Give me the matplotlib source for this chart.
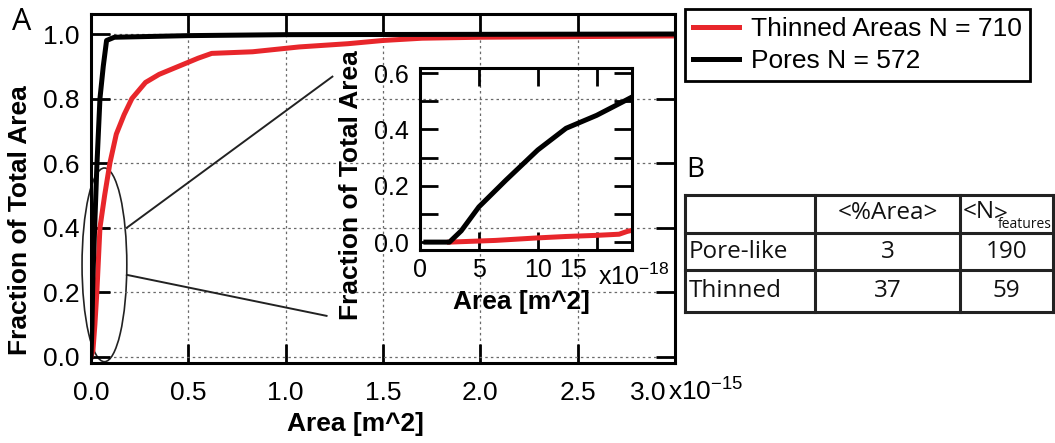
import numpy as np
import matplotlib.pyplot as plt
from matplotlib.patches import Ellipse
from matplotlib.transforms import ScaledTranslation

plt.rcParams['font.family'] = ['Liberation Sans', 'DejaVu Sans']
plt.rcParams['mathtext.fontset'] = 'custom'
plt.rcParams['mathtext.rm'] = 'Liberation Sans'
plt.rcParams['mathtext.bf'] = 'Liberation Sans:bold'

# cumulative area fraction, main panel (area in units of 1e-15 m^2)
thin_x = [0, 0.01, 0.02, 0.03, 0.046, 0.07, 0.097, 0.13, 0.17, 0.21, 0.28, 0.35,
          0.45, 0.55, 0.62, 0.83, 1.07, 1.32, 1.5, 1.7, 2.0, 2.5, 3.0]
thin_y = [0, 0.02, 0.1, 0.2, 0.4, 0.5, 0.6, 0.69, 0.75, 0.8, 0.85, 0.875,
          0.9, 0.925, 0.94, 0.945, 0.96, 0.97, 0.98, 0.987, 0.99, 0.992, 0.994]
pore_x = [0, 0.005, 0.01, 0.02, 0.03, 0.046, 0.063, 0.08, 0.12, 0.5, 1.0, 3.0]
pore_y = [0, 0.1, 0.25, 0.42, 0.59, 0.80, 0.90, 0.98, 0.99, 0.995, 0.998, 1.0]

# inset (area in units of 1e-18 m^2)
in_pore_x = [0.5, 2.5, 3.5, 5.0, 7.3, 10.0, 12.4, 15.0, 17.5, 18.0]
in_pore_y = [0.0, 0.0, 0.04, 0.125, 0.22, 0.327, 0.404, 0.45, 0.504, 0.515]
in_thin_x = [2.5, 6.4, 10.0, 12.4, 15.0, 16.9, 17.6, 18.0]
in_thin_y = [0.0, 0.006, 0.015, 0.02, 0.024, 0.028, 0.038, 0.042]

main_xticks = [0, 0.5, 1.0, 1.5, 2.0, 2.5, 3.0]
main_xlabels = ['0.0', '0.5', '1.0', '1.5', '2.0', '2.5', '3.0']
main_yticks = [0, 0.2, 0.4, 0.6, 0.8, 1.0]
main_ylabels = ['0.0', '0.2', '0.4', '0.6', '0.8', '1.0']
in_xticks = [0, 5, 10, 15]
in_xlabels = ['0', '5', '10', '15']
in_yticks = [0, 0.2, 0.4, 0.6]
in_ylabels = ['0.0', '0.2', '0.4', '0.6']

legend_labels = ['Thinned Areas N = 710', 'Pores N = 572']

row_names = ['Pore-like', 'Thinned']
pct_area = ['3', '37']
n_features = ['190', '59']

red = '#e8262b'
W, H = 1055, 443
fig = plt.figure(figsize=(W / 100, H / 100), dpi=100)


def box(l, t, r, b):
    return [l / W, 1 - b / H, (r - l) / W, (b - t) / H]


def style(a, length, size):
    for s in a.spines.values():
        s.set_linewidth(2.2)
    a.tick_params(which='both', direction='in', length=length, width=2,
                  top=True, right=True, labelsize=size)


def shift_last(a, dx):
    lab = a.xaxis.get_ticklabels()[-1]
    lab.set_transform(lab.get_transform() +
                      ScaledTranslation(dx / 100, 0, fig.dpi_scale_trans))


# ---- main panel
ax = fig.add_axes(box(91, 14, 675, 363))
l1, = ax.plot(thin_x, thin_y, color=red, lw=3.6)
l2, = ax.plot(pore_x, pore_y, color='black', lw=3.6)
ax.set_xlim(0, 3.0)
ax.set_ylim(-0.019, 1.062)
ax.set_xticks(main_xticks, main_xlabels)
ax.set_yticks(main_yticks, main_ylabels)
style(ax, 14, 19)
ax.tick_params(axis='x', pad=13)
ax.tick_params(axis='y', pad=8)
shift_last(ax, -27)
ax.grid(True, ls=(0, (2, 2.5)), color='#6a6a6a', lw=0.9)
ax.set_xlabel('Area [m^2]', fontsize=19, fontweight='bold')
ax.set_ylabel('Fraction of Total Area', fontsize=19, fontweight='bold')
ax.xaxis.set_label_coords(0.452, -0.14)
ax.yaxis.set_label_coords(-0.101, 0.41)
ax.text(0.988, -0.106, r'x10$^{\mathregular{-15}}$', transform=ax.transAxes,
        fontsize=19, ha='left', va='baseline')

# zoom-in ellipse and guide lines
ax.add_patch(Ellipse((0.069, 0.285), 0.23, 0.60, fill=False, lw=1.2,
                     ec='#222222', clip_on=False))
ax.plot([0.184, 1.24], [0.40, 0.868], color='#222222', lw=1.4)
ax.plot([0.184, 1.21], [0.254, 0.127], color='#222222', lw=1.4)

# ---- inset
ins = fig.add_axes(box(420, 68, 632, 250), facecolor='none')
ins.plot(in_thin_x, in_thin_y, color=red, lw=3.6)
ins.plot(in_pore_x, in_pore_y, color='black', lw=3.6)
ins.set_xlim(0, 18)
ins.set_ylim(-0.028, 0.618)
ins.set_xticks(in_xticks, in_xlabels)
ins.set_yticks(in_yticks, in_ylabels)
ins.set_yticks([0.1, 0.3, 0.5], minor=True)
style(ins, 13, 18)
ins.tick_params(axis='x', pad=6)
ins.tick_params(axis='y', pad=8)
shift_last(ins, -24)
ins.set_xlabel('Area [m^2]', fontsize=19, fontweight='bold')
ins.set_ylabel('Fraction of Total Area', fontsize=19, fontweight='bold')
ins.xaxis.set_label_coords(0.48, -0.22)
ins.yaxis.set_label_coords(-0.269, 0.357)
ins.text(0.84, -0.192, r'x10$^{\mathregular{-18}}$', transform=ins.transAxes,
         fontsize=18, ha='left', va='baseline')

# ---- legend
leg = fig.legend([l1, l2], legend_labels, loc='upper left',
                 bbox_to_anchor=(685 / W, 1 - 9 / H), fontsize=19,
                 fancybox=False, edgecolor='black', framealpha=1,
                 handlelength=1.75, borderaxespad=0, borderpad=0.3,
                 labelspacing=0.3, handletextpad=0.45)
leg.get_frame().set_linewidth(2)

# ---- panel letters
fig.text(12 / W, 1 - 22 / H, 'A', fontsize=22, family='Open Sans',
         va='center', ha='left')
fig.text(686 / W, 1 - 170 / H, 'B', fontsize=20, family='Open Sans',
         va='center', ha='left')

# ---- table B
tb = fig.add_axes(box(685, 195, 1053, 312))
tb.set_xlim(685, 1053)
tb.set_ylim(312, 195)
tb.axis('off')
col_x = [685, 815, 960, 1053]
row_y = [195, 233, 270, 312]
for y in row_y:
    tb.plot([685, 1053], [y, y], color='#222222', lw=2.2, clip_on=False,
            solid_capstyle='projecting')
for x in col_x:
    tb.plot([x, x], [195, 312], color='#222222', lw=2.2, clip_on=False,
            solid_capstyle='projecting')
tfont = dict(family='Open Sans', fontsize=17.5, va='center', color='#111111')
tb.text((col_x[1] + col_x[2]) / 2, 213, '<%Area>', ha='center', **tfont)
tb.text(col_x[2] + 3, 212, '<N', ha='left', **tfont)
tb.text(col_x[2] + 34, 215, '>', ha='left', **tfont)
tb.text(col_x[2] + 38, 225, 'features', ha='left', family='Open Sans',
        fontsize=10, va='center', color='#111111')
for i, name in enumerate(row_names):
    yc = (row_y[i + 1] + row_y[i + 2]) / 2
    tb.text(col_x[0] + 4, yc, name, ha='left', **tfont)
    tb.text((col_x[1] + col_x[2]) / 2, yc, pct_area[i], ha='center', **tfont)
    tb.text((col_x[2] + col_x[3]) / 2, yc, n_features[i], ha='center', **tfont)

fig.savefig('out.png', dpi=100)
